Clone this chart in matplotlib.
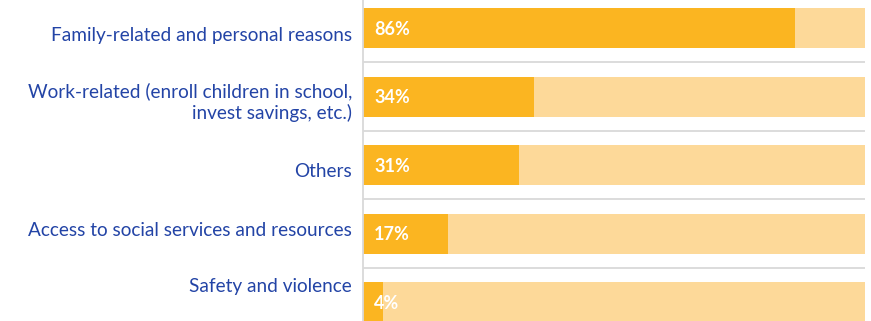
import matplotlib.pyplot as plt

reasons = [
    "Family-related and personal reasons",
    "Work-related (enroll children in school,\ninvest savings, etc.)",
    "Others",
    "Access to social services and resources",
    "Safety and violence",
]
shares = [86, 34, 31, 17, 4]
total = [100] * len(shares)

dark = "#FBB521"
light = "#FDD999"
blue = "#2344A6"

fig = plt.figure(figsize=(8.71, 3.21), dpi=100)
ax = fig.add_axes([363 / 871, 0, 502 / 871, 1])

pos = list(range(len(reasons)))
ax.barh(pos, total, height=0.584, color=light, left=0)
ax.barh(pos, shares, height=0.584, color=dark, left=0)

for p, v in zip(pos, shares):
    ax.text(2.2, p + 0.02, f"{v}%", color="white", fontsize=13, fontweight="bold",
            family="Lato", va="center", ha="left")

# thin separators between the rows
for p in pos[:-1]:
    ax.axhline(p + 0.5, color="#d9d9d9", lw=1.3, zorder=0)

ax.set_xlim(0, 100)
ax.set_ylim(4.277, -0.409)

# category labels sit a little off the bar centres (row pitch ~68.5 px)
label_shift = [6, 2.5, 5, -5, -17]
ax.set_yticks([p + s / 68.5 for p, s in zip(pos, label_shift)])
ax.set_yticklabels(reasons, fontsize=13.7, family="Lato", color=blue,
                   linespacing=1.2)
ax.tick_params(axis="y", length=0, pad=8)
ax.set_xticks([])
for s in ["top", "right", "bottom"]:
    ax.spines[s].set_visible(False)
ax.spines["left"].set_color("#d9d9d9")
ax.spines["left"].set_linewidth(1.3)

fig.savefig("out.png", dpi=100)
